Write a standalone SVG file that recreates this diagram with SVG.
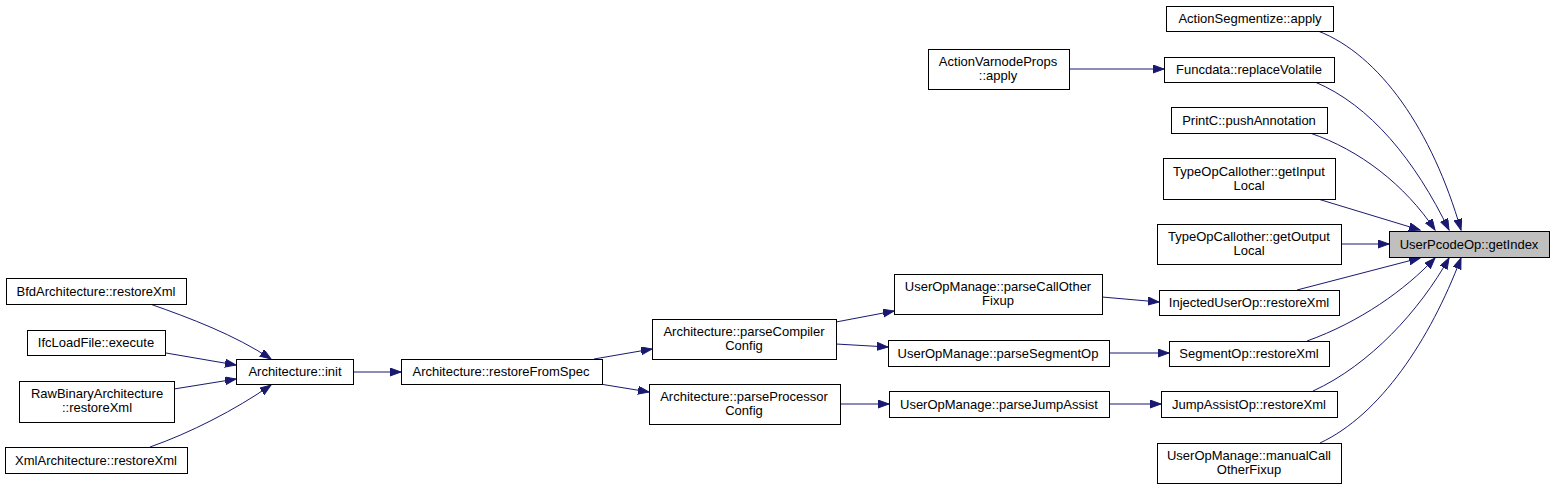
<svg xmlns="http://www.w3.org/2000/svg" width="1555" height="489" viewBox="0 0 1555 489">
<style>
.n rect{fill:#ffffff;stroke:#000000;stroke-width:1}
.n.hl rect{fill:#bfbfbf}
.n text{font-family:"Liberation Sans",Arial,sans-serif;font-size:13px;fill:#000000;text-anchor:middle}
#edges path{fill:none;stroke:#191970;stroke-width:1;marker-end:url(#ah)}
</style>
<defs>
<marker id="ah" markerUnits="userSpaceOnUse" markerWidth="12" markerHeight="10" refX="11" refY="4" orient="auto">
<path d="M0,0 L11,4 L0,8 z" fill="#191970" stroke="#191970" stroke-width="1"/>
</marker>
</defs>
<rect x="0" y="0" width="1555" height="489" fill="#ffffff"/>
<g id="edges">
<path d="M1318,31 C1380,55 1432,130 1461,230"/>
<path d="M1315,82 C1370,105 1415,160 1449,230"/>
<path d="M1310,133 C1360,150 1405,185 1435,230"/>
<path d="M1318,199 L1420,230"/>
<path d="M1341,244 L1389,244"/>
<path d="M1297,290 L1420,258"/>
<path d="M1307,341 C1360,322 1405,290 1435,258"/>
<path d="M1313,391 C1370,365 1420,310 1449,258"/>
<path d="M1320,443 C1380,415 1430,340 1461,258"/>
<path d="M1069,69 L1164,69"/>
<path d="M1102,297 L1159,302"/>
<path d="M1109,353 L1169,353"/>
<path d="M1109,404 L1161,404"/>
<path d="M836,322 L894,311"/>
<path d="M836,344 L888,347"/>
<path d="M840,404 L889,404"/>
<path d="M594,359 L652,349"/>
<path d="M600,384 L649,392"/>
<path d="M353,372 L401,372"/>
<path d="M150,304 C190,318 235,335 271,359"/>
<path d="M166,353 L236,365"/>
<path d="M174,389 L236,379"/>
<path d="M150,447 C190,433 235,410 271,385"/>
</g>
<g id="n1" class="n"><rect x="1166.5" y="6.5" width="167" height="25"/><text x="1250" y="23">ActionSegmentize::apply</text></g>
<g id="n2" class="n"><rect x="1164.5" y="57.5" width="170" height="25"/><text x="1249" y="74">Funcdata::replaceVolatile</text></g>
<g id="n3" class="n"><rect x="1171.5" y="107.5" width="156" height="26"/><text x="1249" y="125">PrintC::pushAnnotation</text></g>
<g id="n4" class="n"><rect x="1163.5" y="158.5" width="172" height="41"/><text x="1249" y="176">TypeOpCallother::getInput</text><text x="1249" y="190">Local</text></g>
<g id="n5" class="n"><rect x="1157.5" y="224.5" width="184" height="40"/><text x="1249" y="241">TypeOpCallother::getOutput</text><text x="1249" y="255">Local</text></g>
<g id="n6" class="n hl"><rect x="1389.5" y="231.5" width="160" height="26"/><text x="1469" y="249">UserPcodeOp::getIndex</text></g>
<g id="n7" class="n"><rect x="1159.5" y="290.5" width="180" height="25"/><text x="1249" y="307">InjectedUserOp::restoreXml</text></g>
<g id="n8" class="n"><rect x="1169.5" y="341.5" width="160" height="25"/><text x="1249" y="358">SegmentOp::restoreXml</text></g>
<g id="n9" class="n"><rect x="1161.5" y="391.5" width="176" height="26"/><text x="1249" y="409">JumpAssistOp::restoreXml</text></g>
<g id="n10" class="n"><rect x="1157.5" y="443.5" width="184" height="40"/><text x="1249" y="460">UserOpManage::manualCall</text><text x="1249" y="474">OtherFixup</text></g>
<g id="n11" class="n"><rect x="928.5" y="49.5" width="141" height="40"/><text x="998" y="66">ActionVarnodeProps</text><text x="998" y="80">::apply</text></g>
<g id="n12" class="n"><rect x="894.5" y="274.5" width="208" height="40"/><text x="998" y="291">UserOpManage::parseCallOther</text><text x="998" y="305">Fixup</text></g>
<g id="n13" class="n"><rect x="888.5" y="340.5" width="221" height="26"/><text x="998" y="358">UserOpManage::parseSegmentOp</text></g>
<g id="n14" class="n"><rect x="889.5" y="391.5" width="220" height="26"/><text x="999" y="409">UserOpManage::parseJumpAssist</text></g>
<g id="n15" class="n"><rect x="652.5" y="319.5" width="184" height="40"/><text x="744" y="336">Architecture::parseCompiler</text><text x="744" y="350">Config</text></g>
<g id="n16" class="n"><rect x="649.5" y="384.5" width="191" height="40"/><text x="744" y="401">Architecture::parseProcessor</text><text x="744" y="415">Config</text></g>
<g id="n17" class="n"><rect x="401.5" y="359.5" width="201" height="25"/><text x="501" y="376">Architecture::restoreFromSpec</text></g>
<g id="n18" class="n"><rect x="236.5" y="359.5" width="117" height="25"/><text x="295" y="376">Architecture::init</text></g>
<g id="n19" class="n"><rect x="6.5" y="278.5" width="180" height="26"/><text x="96" y="296">BfdArchitecture::restoreXml</text></g>
<g id="n20" class="n"><rect x="27.5" y="330.5" width="138" height="25"/><text x="96" y="347">IfcLoadFile::execute</text></g>
<g id="n21" class="n"><rect x="19.5" y="381.5" width="155" height="41"/><text x="97" y="398">RawBinaryArchitecture</text><text x="97" y="412">::restoreXml</text></g>
<g id="n22" class="n"><rect x="5.5" y="447.5" width="182" height="26"/><text x="96" y="465">XmlArchitecture::restoreXml</text></g>
</svg>
